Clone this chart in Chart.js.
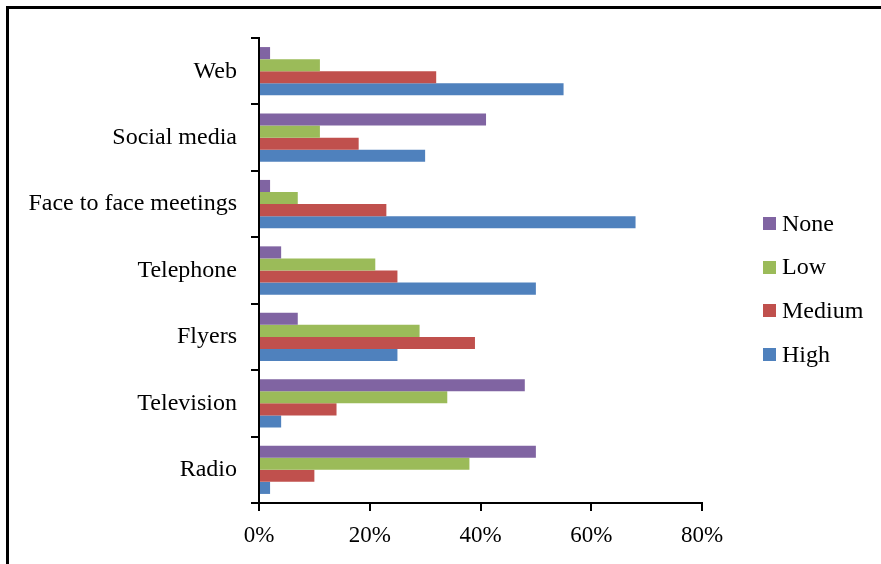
<!DOCTYPE html>
<html>
<head>
<meta charset="utf-8">
<script src="https://cdn.jsdelivr.net/npm/chart.js@4/dist/chart.umd.min.js"></script>
<style>
  html, body { margin: 0; padding: 0; background: #fff; }
  #wrap { width: 881px; height: 564px; position: relative; }
</style>
</head>
<body>
<div id="wrap"><canvas id="c" width="881" height="564"></canvas></div>
<script>
const categories = ["Web", "Social media", "Face to face meetings", "Telephone", "Flyers", "Television", "Radio"];
const seriesNames = ["None", "Low", "Medium", "High"];
const noneValues   = [2, 41, 2, 4, 7, 48, 50];
const lowValues    = [11, 11, 7, 21, 29, 34, 38];
const mediumValues = [32, 18, 23, 25, 39, 14, 10];
const highValues   = [55, 30, 68, 50, 25, 4, 2];
const xTicks = [0, 20, 40, 60, 80];
const colors = ["#8064A2", "#9BBB59", "#C0504D", "#4F81BD"];

const FONT = "'Liberation Serif', 'Times New Roman', serif";

const framePlugin = {
  id: 'frame',
  beforeDraw(chart) {
    const ctx = chart.ctx;
    ctx.save();
    ctx.fillStyle = '#ffffff';
    ctx.fillRect(0, 0, chart.width, chart.height);
    ctx.fillStyle = '#000000';
    ctx.fillRect(7, 6, chart.width, 3);
    ctx.fillRect(6, 6, 3, chart.height);
    ctx.restore();
  }
};

const legendPlugin = {
  id: 'manualLegend',
  afterDraw(chart) {
    const ctx = chart.ctx;
    ctx.save();
    ctx.font = "24px " + FONT;
    ctx.textBaseline = 'middle';
    ctx.textAlign = 'left';
    chart.data.datasets.forEach((ds, i) => {
      const cy = 223.5 + i * 43.6;
      ctx.fillStyle = ds.backgroundColor;
      ctx.fillRect(763, Math.round(cy - 6.5), 13, 13);
      ctx.fillStyle = '#000';
      ctx.fillText(ds.label, 782, cy + 1);
    });
    ctx.restore();
  }
};

const datasets = [noneValues, lowValues, mediumValues, highValues].map((vals, i) => ({
  label: seriesNames[i],
  data: vals,
  backgroundColor: colors[i],
  borderWidth: 0,
  barPercentage: 1.0,
  categoryPercentage: 0.727
}));

new Chart(document.getElementById('c'), {
  type: 'bar',
  data: { labels: categories, datasets },
  plugins: [framePlugin, legendPlugin],
  options: {
    indexAxis: 'y',
    responsive: false,
    animation: false,
    devicePixelRatio: 1,
    layout: { padding: { left: 0, top: 38, right: 179, bottom: 0 } },
    plugins: {
      legend: { display: false },
      tooltip: { enabled: false }
    },
    scales: {
      x: {
        min: 0,
        max: 80,
        afterBuildTicks(scale) { scale.ticks = xTicks.map(v => ({ value: v })); },
        afterFit(scale) { scale.height = 61; },
        ticks: {
          callback: v => v + '%',
          color: '#000',
          font: { family: FONT, size: 23 },
          padding: 11,
          maxRotation: 0
        },
        grid: {
          drawOnChartArea: false,
          drawTicks: true,
          tickLength: 8,
          color: '#000',
          lineWidth: 2
        },
        border: { display: true, color: '#000', width: 2 }
      },
      y: {
        afterFit(scale) { scale.width = 259; },
        ticks: {
          color: '#000',
          font: { family: FONT, size: 24 },
          padding: 14
        },
        grid: {
          offset: true,
          drawOnChartArea: false,
          drawTicks: true,
          tickLength: 8,
          color: '#000',
          lineWidth: 2
        },
        border: { display: true, color: '#000', width: 2 }
      }
    }
  }
});
</script>
</body>
</html>
